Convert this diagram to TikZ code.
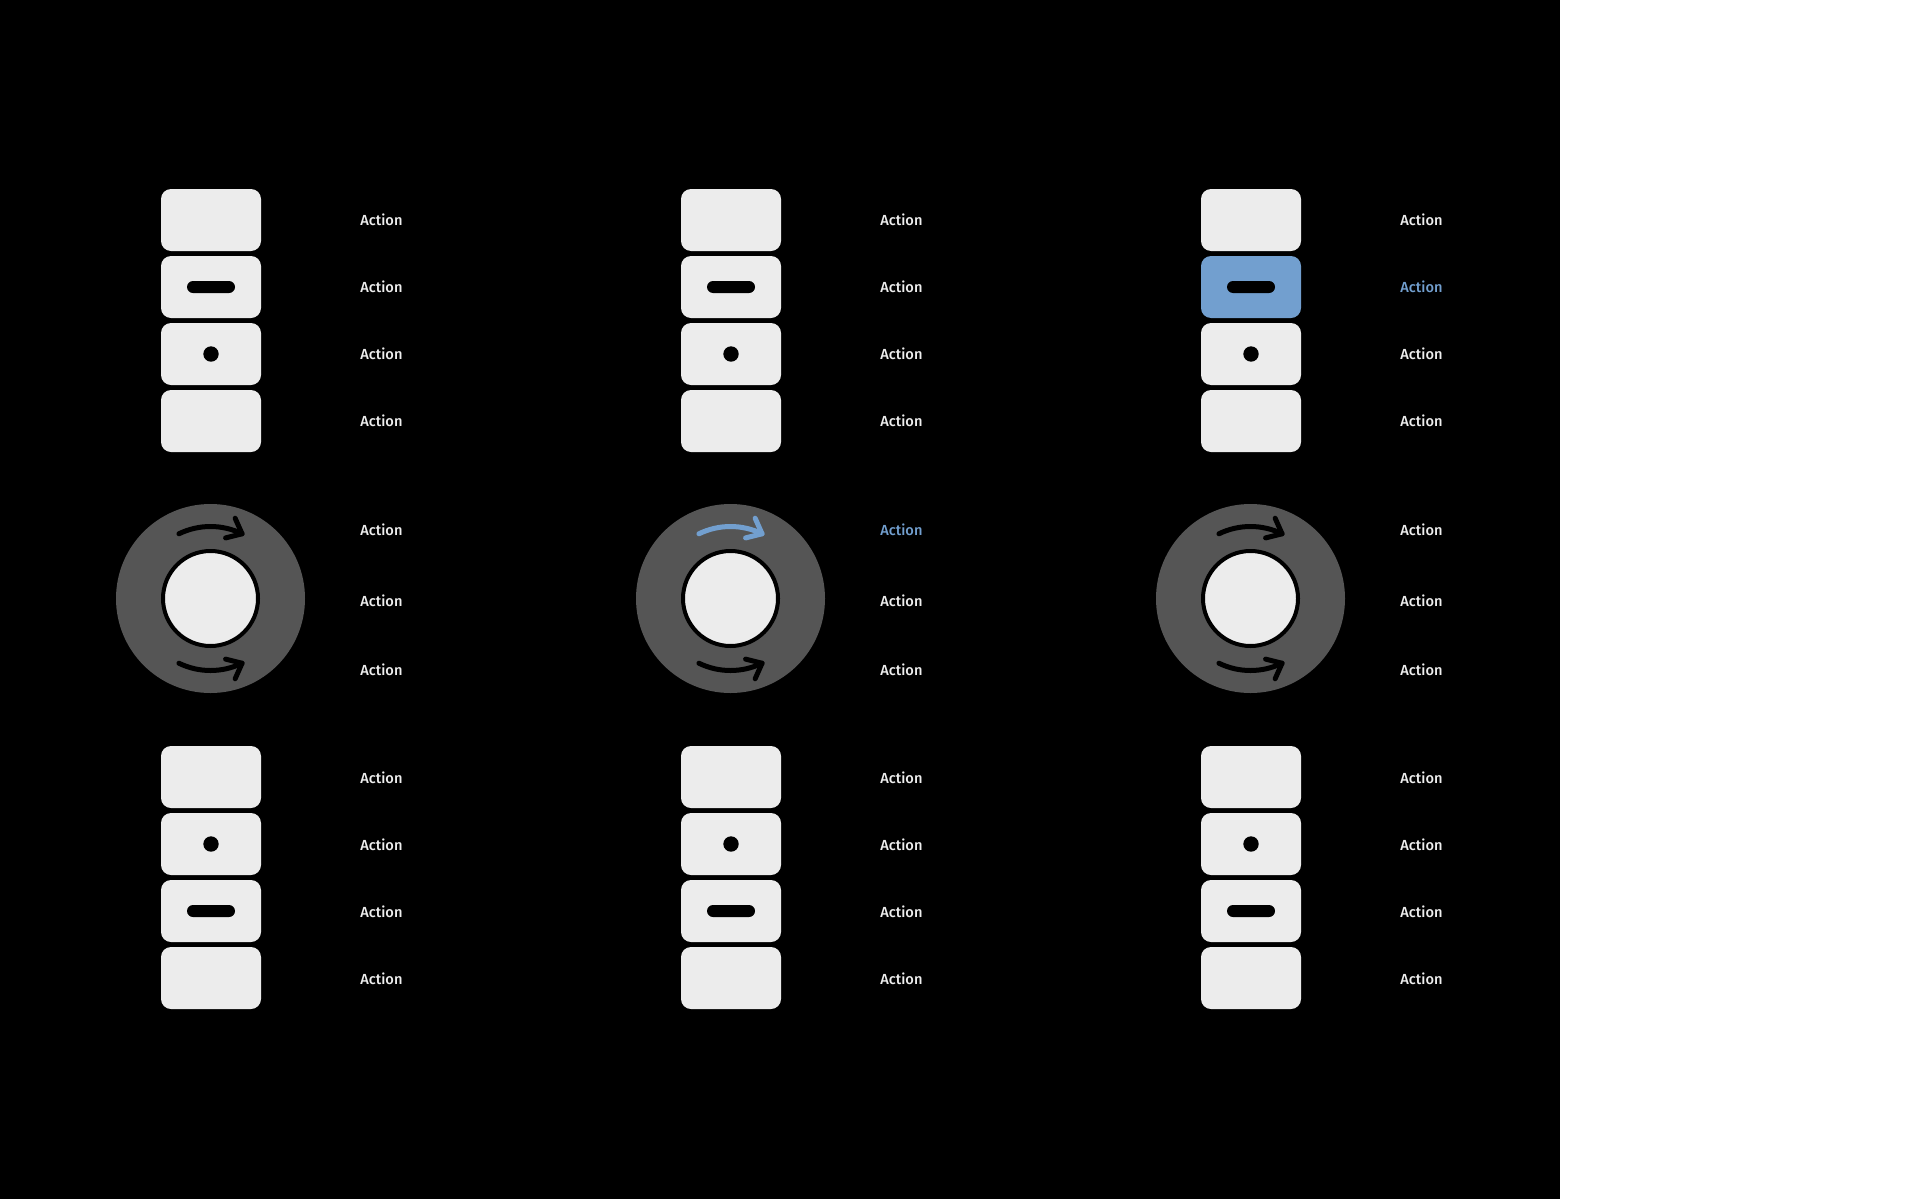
\documentclass[tikz,border=0pt]{standalone}
\usepackage{fontspec}
\setmainfont{Fira Sans}[BoldFont={* Medium}]
\definecolor{keyfill}{HTML}{ECECEC}
\definecolor{ringgray}{HTML}{555555}
\definecolor{hl}{HTML}{729FCF}
\definecolor{txt}{HTML}{EEEEEE}
\tikzset{
  key/.style={fill=keyfill, rounded corners=5pt, minimum width=50pt, minimum height=31pt, inner sep=0pt},
  bar/.style={fill=black, rounded corners=3pt, minimum width=24pt, minimum height=6pt, inner sep=0pt},
  pip/.style={circle, fill=black, minimum size=7.7pt, inner sep=0pt},
  lbl/.style={anchor=west, inner sep=0pt, font=\bfseries\fontsize{7.3}{8}\selectfont},
  ring/.style={circle, fill=ringgray, minimum size=94.5pt, inner sep=0pt},
  knob/.style={circle, fill=keyfill, draw=black, line width=2pt, minimum size=47.5pt, inner sep=0pt},
  arw/.style={line width=2.5pt, line cap=round, line join=round}
}
\begin{document}
\begin{tikzpicture}[x=0.5pt,y=-0.5pt]
\useasboundingbox (0,0) rectangle (1921,1199);
\fill[white] (0,0) rectangle (1921,1199);
\fill[black] (0,0) rectangle (1560,1199);
\foreach \c/\i/\kc/\kt/\ac/\at in {0/1/keyfill/txt/black/txt, 520/2/keyfill/txt/hl/hl, 1040/3/hl/hl/black/txt}{
  % top group
  \node[key] (ta\i) at (\c+211,220) {};
  \node[key, fill=\kc] (tb\i) at (\c+211,287) {};
  \node[key] (tc\i) at (\c+211,354) {};
  \node[key] (td\i) at (\c+211,421) {};
  \node[bar] (tbb\i) at (tb\i.center) {};
  \node[pip] (tcp\i) at (tc\i.center) {};
  \node[lbl, text=txt] (lta\i) at (\c+360,220) {Action};
  \node[lbl, text=\kt] (ltb\i) at (\c+360,287) {Action};
  \node[lbl, text=txt] (ltc\i) at (\c+360,354) {Action};
  \node[lbl, text=txt] (ltd\i) at (\c+360,421) {Action};
  % dial
  \node[ring] (d\i) at (\c+210.5,598.5) {};
  \node[knob] (k\i) at (d\i.center) {};
  \draw[arw, draw=\ac] (d\i.center) ++(244:72) arc[start angle=244, end angle=296, radius=72] coordinate (tu\i);
  \draw[arw, draw=\ac] (tu\i) ++(246:17) -- (tu\i) -- ++(166:17);
  \draw[arw, draw=black] (d\i.center) ++(116:72) arc[start angle=116, end angle=64, radius=72] coordinate (tl\i);
  \draw[arw, draw=black] (tl\i) ++(114:17) -- (tl\i) -- ++(194:17);
  \node[lbl, text=\at] (lda\i) at (\c+360,529.3) {Action};
  \node[lbl, text=txt] (ldb\i) at (\c+360,600.3) {Action};
  \node[lbl, text=txt] (ldc\i) at (\c+360,669.3) {Action};
  % bottom group
  \node[key] (ba\i) at (\c+211,777) {};
  \node[key] (bb\i) at (\c+211,844) {};
  \node[key] (bc\i) at (\c+211,911) {};
  \node[key] (bd\i) at (\c+211,978) {};
  \node[pip] (bbp\i) at (bb\i.center) {};
  \node[bar] (bcb\i) at (bc\i.center) {};
  \node[lbl, text=txt] (lba\i) at (\c+360,777.3) {Action};
  \node[lbl, text=txt] (lbb\i) at (\c+360,844.3) {Action};
  \node[lbl, text=txt] (lbc\i) at (\c+360,911.3) {Action};
  \node[lbl, text=txt] (lbd\i) at (\c+360,978.3) {Action};
}
\end{tikzpicture}
\end{document}
